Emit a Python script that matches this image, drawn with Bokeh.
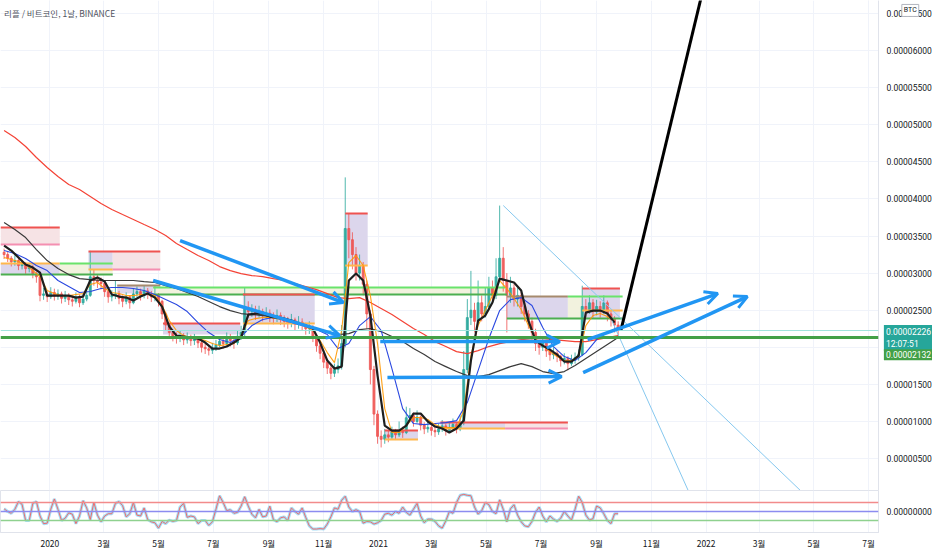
import pandas as pd
from bokeh.plotting import figure
from bokeh.layouts import column
from bokeh.models import (ColumnDataSource, FixedTicker, CustomJSTickFormatter, Range1d,
                          Label, Grid, MonthsTicker, Span, Arrow, OpenHead)
from bokeh.embed import file_html
from bokeh.resources import INLINE

# ---------------- data (prices in satoshi = 1e-8 BTC) ----------------
TITLE = "리플 / 비트코인, 1날, BINANCE"
VIEW_START = "2019-11-07"
VIEW_END = "2022-07-12"
PRICE_MIN = 70
PRICE_MAX = 6674

CANDLE_START = "2019-11-11"
CANDLE_STEP_DAYS = 4
FIRST_OPEN = 3280
CLOSE = [3250,3200,3150,3170,3100,3120,3060,3080,2990,2950,
         2700,2720,2680,2740,2690,2720,2660,2700,2640,2620,
         2680,2600,2650,2700,2950,2900,2880,2860,2750,2680,
         2700,2720,2660,2620,2680,2600,2720,2750,2700,2760,
         2720,2680,2700,2620,2450,2300,2200,2150,2120,2160,
         2100,2130,2090,2110,2060,2000,1980,1960,1990,2030,
         2080,2050,2110,2090,2060,2150,2200,2520,2480,2500,
         2450,2480,2430,2460,2420,2390,2430,2380,2350,2330,
         2370,2310,2340,2300,2250,2270,2150,2020,1920,1800,
         1720,1650,1700,1750,2050,3600,3450,3250,3000,3100,
         2850,2450,1700,1100,800,760,820,790,860,820,
         880,850,1050,1080,1000,1060,950,900,920,880,
         860,900,940,880,920,960,900,980,1700,2400,
         2500,2350,2600,2450,2550,2800,2700,2950,3200,2900,
         2700,2800,2650,2700,2550,2450,2350,2200,2050,2000,
         2060,1950,1900,1920,1880,1820,1850,1780,1840,1860,
         1900,2550,2500,2600,2480,2550,2500,2600,2450,2380,
         2300,2226]
HIGH = [3330,3290,3230,3240,3200,3180,3150,3140,3110,3020,
        2970,2800,2760,2810,2790,2780,2750,2760,2730,2700,
        2740,2710,2720,2790,3300,3050,2980,2940,2890,2780,
        2770,2900,2760,2700,2740,2700,2790,2820,2790,2830,
        2800,2760,2830,2730,2640,2480,2330,2240,2200,2230,
        2190,2200,2170,2180,2140,2090,2050,2030,2060,2100,
        2150,2130,2200,2180,2140,2230,2290,2800,2620,2580,
        2560,2560,2520,2540,2510,2470,2510,2470,2430,2410,
        2450,2400,2420,2390,2330,2350,2300,2180,2060,1960,
        1840,1760,1780,1850,2300,4290,3800,3550,3350,3250,
        3150,2900,2500,1750,1150,880,900,880,930,900,
        1000,930,1200,1180,1120,1150,1080,990,1000,960,
        940,970,1020,970,990,1040,990,1080,1950,2650,
        3030,2600,2900,2700,2800,2950,2900,3200,3910,3350,
        3000,2950,2850,2800,2750,2600,2500,2400,2250,2100,
        2150,2100,2000,2000,1960,1900,1920,1880,1900,1930,
        1970,2830,2650,2700,2650,2640,2620,2700,2630,2500,
        2420,2350]
LOW = [3190,3150,3090,3100,3040,3050,2990,3010,2930,2870,
       2620,2640,2610,2650,2630,2640,2590,2610,2570,2550,
       2590,2540,2570,2620,2680,2830,2800,2780,2680,2600,
       2620,2650,2580,2540,2580,2520,2580,2680,2630,2660,
       2650,2610,2620,2550,2380,2220,2130,2080,2050,2070,
       2030,2050,2020,2030,1990,1930,1910,1890,1910,1950,
       2000,1980,2020,2010,1980,2030,2100,2150,2400,2410,
       2370,2400,2350,2380,2340,2310,2340,2300,2270,2250,
       2270,2230,2250,2220,2170,2180,2070,1940,1840,1720,
       1640,1570,1600,1650,1700,2000,3200,3050,2900,2900,
       2700,2250,1500,950,700,650,700,720,760,750,
       790,780,830,990,930,980,880,830,850,810,
       790,820,860,810,850,880,840,870,950,1650,
       2300,2200,2300,2350,2400,2500,2600,2650,2900,2750,
       2200,2600,2550,2550,2450,2350,2250,2100,1950,1900,
       1950,1870,1820,1840,1800,1740,1770,1690,1750,1780,
       1820,1880,2400,2450,2400,2430,2400,2450,2350,2280,
       2200,2150]
RSI = [56,50,46,55,72,66,30,30,68,72,
       40,23,24,55,78,55,30,35,47,44,
       23,40,74,58,32,70,42,27,40,45,
       45,68,72,63,38,45,70,42,40,58,
       32,27,25,13,28,23,31,28,30,60,
       68,37,40,38,23,30,30,19,27,55,
       85,70,52,54,46,48,62,83,62,44,
       36,55,38,40,62,32,27,36,38,30,
       58,50,44,58,37,18,11,11,12,11,
       22,38,58,55,75,84,60,50,54,50,
       24,28,27,22,25,30,44,46,42,50,
       46,60,48,42,55,68,40,25,33,33,
       28,18,13,29,50,46,70,86,88,86,
       85,60,44,52,70,65,50,45,76,55,
       27,56,65,42,27,18,16,28,48,60,
       40,27,40,33,28,35,50,40,31,55,
       84,70,42,31,34,62,58,45,30,23,
       45,45]
RSI_LEVELS = [70, 50, 30]
RSI_MIN = 3.3
RSI_MAX = 96.7

SLOW_START = "2019-11-11"
SLOW_STEP_DAYS = 12
MA_LONG = [4922,4827,4706,4558,4423,4302,4194,4126,4032,3938,
           3857,3789,3722,3654,3587,3506,3398,3317,3237,3169,
           3088,3034,2994,2967,2953,2926,2900,2859,2819,2778,
           2724,2670,2657,2670,2603,2522,2441,2347,2253,2172,
           2077,2010,1942,1915,1956,2010,2050,2077,2104,2118,
           2118,2104,2091,2077,2077,2104,2131,2158]
MA_MID = [3681,3587,3479,3317,3169,3061,2980,2926,2913,2900,
          2900,2900,2900,2886,2873,2832,2792,2738,2684,2617,
          2549,2495,2455,2441,2428,2414,2387,2347,2293,2253,
          2212,2172,2185,2239,2253,2212,2145,2077,1983,1902,
          1808,1740,1673,1619,1605,1632,1686,1740,1781,1740,
          1673,1646,1673,1754,1848,1942,2037,2131]
MA_SHORT = [3304,3263,3196,3102,3034,2900,2819,2738,2751,2792,
            2805,2805,2792,2765,2711,2643,2576,2482,2333,2199,
            2104,2064,2145,2293,2374,2401,2360,2320,2280,2239,
            2172,1983,2050,2293,2414,2226,1713,1174,972,958,
            972,985,1012,1255,1686,2118,2495,2643,2670,2563,
            2266,2010,1875,1821,1929,2104,2199,2266]

FAST_START = "2019-11-11"
FAST_STEP_DAYS = 8
MA_FAST = [3210,3183,3156,3115,3034,2953,2765,2724,2697,2697,
           2711,2724,2846,2873,2792,2738,2724,2697,2697,2711,
           2711,2697,2563,2360,2226,2158,2131,2118,2091,2050,
           2023,2037,2050,2158,2360,2387,2401,2401,2387,2374,
           2347,2320,2280,2226,2091,1929,1794,2226,3142,3237,
           3102,2697,2050,1174,851,851,945,1053,1053,1026,
           958,918,918,918,1147,1889,2293,2495,2697,2900,
           2792,2657,2509,2293,2118,2023,1942,1875,1821,1821,
           1875,2293,2428,2455,2414,2347]
BASELINE = [3371,3304,3210,3115,3075,3007,2697,2697,2697,2697,
            2670,2684,2900,2940,2886,2711,2684,2670,2630,2684,
            2724,2670,2549,2280,2158,2145,2131,2118,2064,1983,
            1983,2010,2064,2131,2441,2455,2455,2414,2401,2387,
            2360,2320,2293,2253,2064,1821,1713,1740,2900,2994,
            2900,2428,1619,945,878,878,945,1107,1107,1000,
            932,905,851,905,1012,1821,2360,2428,2603,2926,
            2900,2873,2765,2360,2091,2023,1969,1902,1808,1808,
            1889,2468,2495,2495,2455,2333]

ZONE_START = ["2019-11-07","2019-11-07","2020-01-12","2020-02-13","2020-03-11","2020-03-16",
              "2020-04-25","2020-05-06","2020-08-03","2020-11-25","2021-01-08","2021-03-11",
              "2021-05-22","2021-05-24","2021-07-31","2021-08-16"]
ZONE_END = ["2020-01-12","2020-01-12","2020-03-11","2020-03-11","2020-05-03","2020-05-03",
            "2021-05-22","2020-07-31","2020-10-22","2020-12-20","2021-02-14","2021-05-22",
            "2021-07-31","2021-07-31","2021-08-16","2021-09-27"]
ZONE_TOP = [3614,3129,3129,3290,3290,2832,2805,2320,2711,3803,878,985,985,2684,2684,2792]
ZONE_BOTTOM = [3385,2980,2980,3048,3048,2724,2711,2172,2320,3102,756,904,904,2387,2387,2387]
ZONE_KIND = ["weak","active","pending","active","weak","active","pending","active","active",
             "active","active","active","weak","active","pending","active"]

LEVEL_START = ["2019-11-07","2019-11-07","2019-11-07","2020-01-12","2019-11-07","2020-02-13",
               "2020-02-13","2020-03-11","2020-03-16","2020-04-25","2020-04-25","2020-05-06",
               "2020-08-03","2020-08-03","2020-11-25","2020-11-25","2021-01-08","2021-01-08",
               "2021-03-11","2021-03-11","2021-05-22","2021-05-24","2021-07-31","2021-05-24",
               "2021-08-16","2021-08-16"]
LEVEL_END = ["2020-01-12","2020-01-12","2020-01-12","2020-03-11","2020-03-11","2020-05-03",
             "2020-03-11","2020-05-03","2020-05-03","2021-05-22","2021-05-24","2020-07-31",
             "2020-10-22","2020-10-22","2020-12-20","2020-12-20","2021-02-14","2021-02-14",
             "2021-07-31","2021-05-22","2021-07-31","2021-07-31","2021-09-30","2021-09-30",
             "2021-09-27","2021-09-30"]
LEVEL_PRICE = [3614,3385,3129,3129,2980,3290,3048,3048,2832,2805,2711,2320,2711,2320,3803,
               3102,878,756,985,904,904,2684,2684,2387,2792,2495]
LEVEL_KIND = ["resistance","faded","pivot","breakout","support","resistance","pivot","faded",
              "base","breakout","support","resistance","resistance","pivot","resistance","pivot",
              "resistance","pivot","resistance","pivot","faded","base","breakout","support",
              "resistance","pivot"]

KEY_LEVEL = 2132
LAST_PRICE = 2226
LAST_TIME = "12:07:51"

ARROW_X0 = ["2020-05-25","2020-04-25","2021-01-03","2021-01-11","2021-08-22","2021-08-17"]
ARROW_P0 = [3439, 2900, 2077, 1592, 2104, 1659]
ARROW_X1 = ["2020-11-23","2020-11-19","2021-07-22","2021-07-24","2022-01-14","2022-02-16"]
ARROW_P1 = [2603, 2158, 2077, 1605, 2724, 2684]

TREND_X0 = ["2021-05-20","2021-09-18"]
TREND_P0 = [3911, 2360]
TREND_X1 = ["2022-04-16","2021-12-12"]
TREND_P1 = [70, 70]

PROJ_X = ["2021-09-28","2021-12-31"]
PROJ_P = [2226, 6944]

PRICE_TICKS = [500,1000,1500,2500,3000,3500,4000,4500,5000,5500,6000,6500]
GRID_TICKS = [500,1000,1500,2000,2500,3000,3500,4000,4500,5000,5500,6000,6500]

# ---------------- styles ----------------
DAY_MS = 86400000
UP, DOWN = "#26a69a", "#ef5350"
ZONE_FILL = {"active": "#dcd6ec", "weak": "#f6e3e5", "pending": "#f2f2de"}
LEVEL_COLOR = {"resistance": "#ef5350", "faded": "#f48fb1", "pivot": "#ffb74d",
               "breakout": "#69e36b", "support": "#4caf50", "base": "#a68a6d"}
GRID = "#f0f3fa"
TXT = "#131722"
NUM_FONT = "Roboto"
FRAME_W = 878


def ms(d):
    return pd.Timestamp(d).value / 1e6


def style_axis(a, font):
    a.major_tick_line_color = None
    a.minor_tick_line_color = None
    a.major_tick_out = 0
    a.major_tick_in = 0
    a.minor_tick_out = 0
    a.minor_tick_in = 0
    a.axis_line_color = "#e0e3eb"
    a.major_label_text_font_size = "8.5px"
    a.major_label_text_font = font
    a.major_label_text_color = TXT


x_range = Range1d(start=ms(VIEW_START), end=ms(VIEW_END))
months = MonthsTicker(months=[0, 2, 4, 6, 8, 10])

p = figure(frame_width=FRAME_W, frame_height=490, x_range=x_range,
           y_range=Range1d(PRICE_MIN, PRICE_MAX),
           x_axis_type="datetime", x_axis_location=None, y_axis_location="right",
           output_backend="svg", toolbar_location=None,
           min_border_left=0, min_border_top=0, min_border_bottom=0, min_border_right=0)
p.outline_line_color = None
p.add_layout(Grid(dimension=0, ticker=months, grid_line_color=GRID))
p.ygrid.ticker = FixedTicker(ticks=GRID_TICKS)
p.ygrid.grid_line_color = GRID
ax = p.yaxis[0]
ax.ticker = FixedTicker(ticks=PRICE_TICKS)
ax.formatter = CustomJSTickFormatter(code="return (tick * 1e-8).toFixed(8);")
style_axis(ax, NUM_FONT)
ax.major_label_standoff = 8

# zones
zsrc = ColumnDataSource(dict(left=pd.to_datetime(ZONE_START), right=pd.to_datetime(ZONE_END),
                             top=ZONE_TOP, bottom=ZONE_BOTTOM,
                             fill=[ZONE_FILL[k] for k in ZONE_KIND]))
p.quad(left="left", right="right", top="top", bottom="bottom", fill_color="fill",
       line_color=None, source=zsrc)

# full-width lines
p.add_layout(Span(location=LAST_PRICE, dimension="width", line_color="#9fe3dc", line_width=1))
p.add_layout(Span(location=KEY_LEVEL, dimension="width", line_color="#43a047", line_width=3))

# candles
opens = [FIRST_OPEN] + CLOSE[:-1]
cdates = pd.date_range(CANDLE_START, periods=len(CLOSE), freq=f"{CANDLE_STEP_DAYS}D")
csrc = ColumnDataSource(dict(
    x=cdates, h=HIGH, l=LOW,
    top=[max(o, c) for o, c in zip(opens, CLOSE)],
    bot=[min(o, c) for o, c in zip(opens, CLOSE)],
    color=[UP if c >= o else DOWN for o, c in zip(opens, CLOSE)]))
p.segment(x0="x", y0="l", x1="x", y1="h", line_color="color", line_width=1,
          line_alpha=0.8, source=csrc)
p.vbar(x="x", width=CANDLE_STEP_DAYS * DAY_MS * 0.55, top="top", bottom="bot",
       fill_color="color", line_color="color", fill_alpha=0.75, line_alpha=0.8, source=csrc)

# levels of the zones
lsrc = ColumnDataSource(dict(x0=pd.to_datetime(LEVEL_START), x1=pd.to_datetime(LEVEL_END),
                             y=LEVEL_PRICE, color=[LEVEL_COLOR[k] for k in LEVEL_KIND]))
p.segment(x0="x0", y0="y", x1="x1", y1="y", line_color="color", line_width=2, source=lsrc)

# moving averages
sdates = pd.date_range(SLOW_START, periods=len(MA_LONG), freq=f"{SLOW_STEP_DAYS}D")
fdates = pd.date_range(FAST_START, periods=len(MA_FAST), freq=f"{FAST_STEP_DAYS}D")
p.line(sdates, MA_LONG, line_color="#f44336", line_width=1.2)
p.line(sdates, MA_MID, line_color="#3a3a3a", line_width=1.2)
p.line(sdates, MA_SHORT, line_color="#2a48e0", line_width=1.1)
p.line(fdates, MA_FAST, line_color="#ff9800", line_width=1.1, line_alpha=0.9)
p.line(fdates, BASELINE, line_color="#1e1e1e", line_width=2.2)

# thin trend lines
tsrc = ColumnDataSource(dict(x0=pd.to_datetime(TREND_X0), y0=TREND_P0,
                             x1=pd.to_datetime(TREND_X1), y1=TREND_P1))
p.segment(x0="x0", y0="y0", x1="x1", y1="y1", line_color="#86c8ef", line_width=1, source=tsrc)

# projection
p.line(pd.to_datetime(PROJ_X), PROJ_P, line_color="#000000", line_width=3)

# arrows
asrc = ColumnDataSource(dict(x0=pd.to_datetime(ARROW_X0), y0=ARROW_P0,
                             x1=pd.to_datetime(ARROW_X1), y1=ARROW_P1))
p.add_layout(Arrow(end=OpenHead(line_color="#2196f3", line_width=3, size=13),
                   source=asrc, x_start="x0", y_start="y0", x_end="x1", y_end="y1",
                   line_color="#2196f3", line_width=3.5))

# title
p.add_layout(Label(x=ms("2019-11-11"), y=6510, text=TITLE, text_font="Noto Sans CJK KR",
                   text_font_size="8.5px", text_color="#50535e", text_baseline="middle"))

# price tags on the price scale (side panel so they are not clipped to the frame)
end_ms = ms(VIEW_END)
p.add_layout(Label(x=end_ms + 6 * DAY_MS, y=2300, text="0.%08d\n%s" % (LAST_PRICE, LAST_TIME),
                   text_font=NUM_FONT, text_font_size="8.5px", text_color="white",
                   text_baseline="top", background_fill_color="#26a69a", padding=2), "right")
p.add_layout(Label(x=end_ms + 6 * DAY_MS, y=1975, text="0.%08d" % KEY_LEVEL,
                   text_font=NUM_FONT, text_font_size="8.5px", text_color="white",
                   text_baseline="top", background_fill_color="#43a047", padding=2), "right")
p.add_layout(Label(x=end_ms + 26 * DAY_MS, y=6540, text="BTC", text_font=NUM_FONT,
                   text_font_size="7px", text_color=TXT, text_baseline="middle",
                   background_fill_color="white", border_line_color="#b2b5be", padding=2), "right")

# ---------------- RSI pane ----------------
r = figure(frame_width=FRAME_W, frame_height=42, x_range=x_range, y_range=Range1d(RSI_MIN, RSI_MAX),
           x_axis_type="datetime", y_axis_location="right", output_backend="svg",
           toolbar_location=None, min_border_left=0, min_border_top=0, min_border_bottom=0,
           min_border_right=0)
r.outline_line_color = "#e0e3eb"
r.xgrid.ticker = months
r.xgrid.grid_line_color = GRID
r.ygrid.grid_line_color = None
xa = r.xaxis[0]
xa.ticker = months
xa.formatter = CustomJSTickFormatter(code="""
const d = new Date(tick);
const m = d.getUTCMonth() + 1;
return m === 1 ? String(d.getUTCFullYear()) : m + "월";
""")
style_axis(xa, "Noto Sans CJK KR")
xa.major_label_standoff = 4
ya = r.yaxis[0]
ya.ticker = FixedTicker(ticks=[RSI_LEVELS[1]])
ya.formatter = CustomJSTickFormatter(code='return "0.00000000";')
style_axis(ya, NUM_FONT)
ya.major_label_standoff = 8
for lvl, col in zip(RSI_LEVELS, ["#f28b8b", "#8c8cf0", "#8fd18f"]):
    r.add_layout(Span(location=lvl, dimension="width", line_color=col, line_width=1.5))
r.line(cdates, RSI, line_color="#8fd6f5", line_width=3, line_alpha=0.8)
r.line(cdates, RSI, line_color="#ef6b6b", line_width=1)

layout = column(p, r, spacing=0)
open("out.html", "w").write(file_html(layout, INLINE))
